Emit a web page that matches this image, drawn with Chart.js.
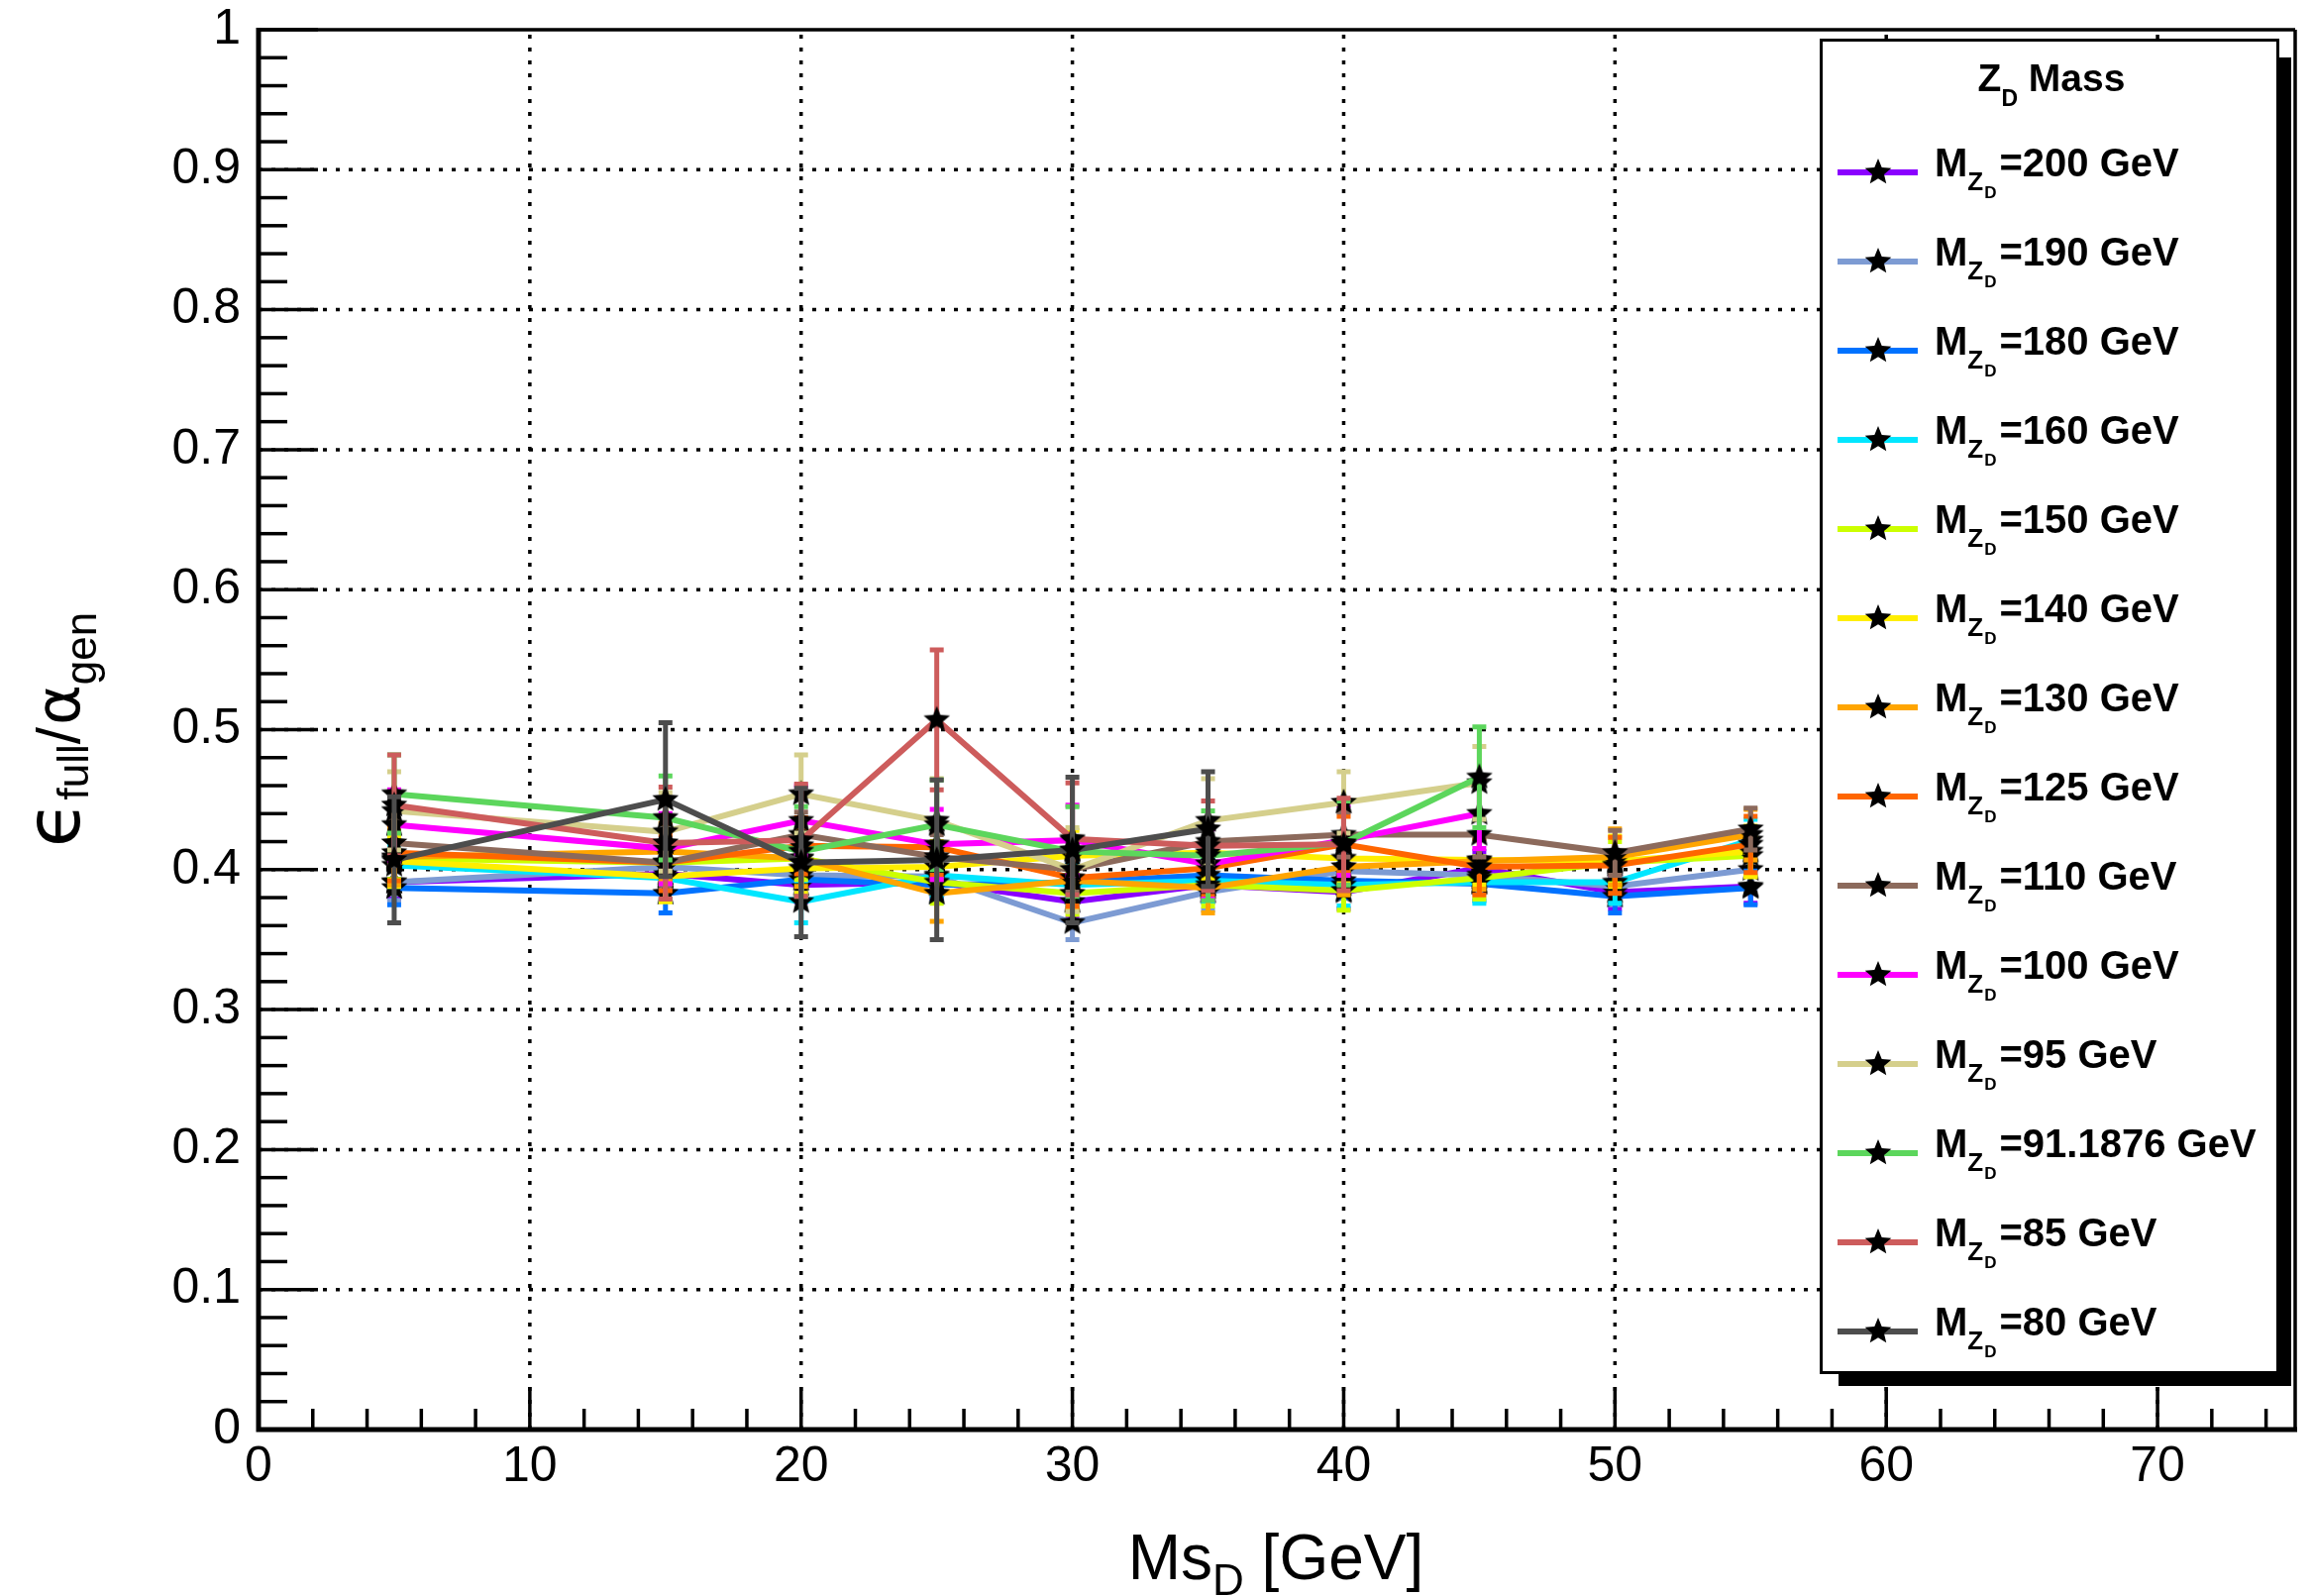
<!DOCTYPE html>
<html>
<head>
<meta charset="utf-8">
<script src="https://cdn.jsdelivr.net/npm/chart.js@4.4.1/dist/chart.umd.min.js"></script>
<style>
  html, body { margin: 0; padding: 0; background: #fff; }
  canvas { display: block; }
</style>
</head>
<body>
<canvas id="effChart" width="2335" height="1611" style="width:2335px;height:1611px"></canvas>
<script>
// Ms_D points (GeV) - not every mass has all of them
const msdAll  = [5, 15, 20, 25, 30, 35, 40, 45, 50, 55];
const msdTo45 = [5, 15, 20, 25, 30, 35, 40, 45];
const msdTo40 = [5, 15, 20, 25, 30, 35, 40];
const msdTo35 = [5, 15, 20, 25, 30, 35];

// Z_D mass labels (legend order)
const massLabels = ['200', '190', '180', '160', '150', '140', '130', '125', '110', '100', '95', '91.1876', '85', '80'];

// efficiency values
const eff200 = [0.391, 0.397, 0.389, 0.391, 0.377, 0.389, 0.384, 0.401, 0.384, 0.388];
const eff190 = [0.391, 0.402, 0.396, 0.395, 0.362, 0.384, 0.399, 0.396, 0.388, 0.400];
const eff180 = [0.387, 0.383, 0.393, 0.389, 0.391, 0.396, 0.392, 0.390, 0.381, 0.387];
const eff160 = [0.403, 0.394, 0.377, 0.396, 0.389, 0.392, 0.389, 0.391, 0.391, 0.421];
const eff150 = [0.408, 0.405, 0.408, 0.391, 0.383, 0.389, 0.385, 0.394, 0.405, 0.410];
const eff140 = [0.406, 0.395, 0.401, 0.402, 0.410, 0.412, 0.408, 0.407, 0.406, 0.413];
const eff130 = [0.409, 0.413, 0.408, 0.383, 0.392, 0.387, 0.402, 0.406, 0.409, 0.425];
const eff125 = [0.412, 0.405, 0.417, 0.416, 0.394, 0.401, 0.418, 0.402, 0.403, 0.418];
const eff110 = [0.419, 0.405, 0.425, 0.409, 0.400, 0.420, 0.425, 0.425, 0.412, 0.429];
const eff100 = [0.432, 0.415, 0.435, 0.418, 0.421, 0.404, 0.421, 0.440];
const eff95  = [0.442, 0.427, 0.454, 0.435, 0.400, 0.435, 0.448, 0.462];
const eff91  = [0.454, 0.437, 0.413, 0.432, 0.413, 0.410, 0.419, 0.466];
const eff85  = [0.446, 0.419, 0.421, 0.507, 0.422, 0.417, 0.418];
const eff80  = [0.407, 0.450, 0.405, 0.407, 0.414, 0.429];

// symmetric errors
const err200 = [0.012, 0.012, 0.012, 0.012, 0.012, 0.012, 0.012, 0.012, 0.012, 0.012];
const err190 = [0.013, 0.013, 0.013, 0.013, 0.012, 0.013, 0.013, 0.013, 0.013, 0.013];
const err180 = [0.012, 0.014, 0.012, 0.012, 0.012, 0.012, 0.012, 0.012, 0.012, 0.012];
const err160 = [0.015, 0.016, 0.015, 0.015, 0.015, 0.015, 0.015, 0.015, 0.015, 0.015];
const err150 = [0.015, 0.015, 0.015, 0.015, 0.015, 0.015, 0.014, 0.015, 0.015, 0.015];
const err140 = [0.018, 0.018, 0.018, 0.018, 0.018, 0.018, 0.018, 0.018, 0.018, 0.018];
const err130 = [0.020, 0.020, 0.020, 0.020, 0.020, 0.018, 0.020, 0.020, 0.020, 0.018];
const err125 = [0.020, 0.020, 0.020, 0.020, 0.020, 0.020, 0.020, 0.020, 0.020, 0.020];
const err110 = [0.016, 0.016, 0.016, 0.016, 0.016, 0.016, 0.016, 0.016, 0.016, 0.015];
const err100 = [0.025, 0.025, 0.025, 0.025, 0.025, 0.025, 0.025, 0.025];
const err95  = [0.028, 0.028, 0.028, 0.030, 0.030, 0.030, 0.022, 0.026];
const err91  = [0.028, 0.030, 0.032, 0.032, 0.032, 0.032, 0.030, 0.036];
const err85  = [0.036, 0.040, 0.040, 0.050, 0.040, 0.032, 0.033];
const err80  = [0.045, 0.055, 0.053, 0.057, 0.052, 0.041];

const lineColors = ['#8a00ff', '#7d9bd3', '#0072ff', '#00e6ff', '#ccff00', '#ffee00', '#ffa500',
                    '#ff6600', '#8c6a5c', '#ff00ff', '#d5cf8c', '#5cd65c', '#cd5c5c', '#4d4d4d'];

const xValues = [msdAll, msdAll, msdAll, msdAll, msdAll, msdAll, msdAll, msdAll, msdAll,
                 msdTo45, msdTo45, msdTo45, msdTo40, msdTo35];
const yValues = [eff200, eff190, eff180, eff160, eff150, eff140, eff130, eff125, eff110,
                 eff100, eff95, eff91, eff85, eff80];
const yErrors = [err200, err190, err180, err160, err150, err140, err130, err125, err110,
                 err100, err95, err91, err85, err80];

const FONT = "'Liberation Sans', Arial, sans-serif";

// filled black star like ROOT marker 29
function makeStar(size) {
    const c = document.createElement('canvas');
    c.width = size;
    c.height = size;
    const g = c.getContext('2d');
    const R = size / 2 - 1;
    const r = R * 0.45;
    g.beginPath();
    for (let k = 0; k < 10; k++) {
        const a = -Math.PI / 2 + k * Math.PI / 5;
        const rr = k % 2 === 0 ? R : r;
        const px = size / 2 + rr * Math.cos(a);
        const py = size / 2 + rr * Math.sin(a);
        if (k === 0) g.moveTo(px, py); else g.lineTo(px, py);
    }
    g.closePath();
    g.fillStyle = '#000';
    g.fill();
    return c;
}
const star = makeStar(30);

const datasets = massLabels.map((m, i) => ({
    label: 'M_ZD=' + m + ' GeV',
    data: xValues[i].map((x, j) => ({ x: x, y: yValues[i][j] })),
    errors: yErrors[i],
    borderColor: lineColors[i],
    backgroundColor: lineColors[i],
    borderWidth: 6,
    pointStyle: star,
    pointRadius: 14,
    tension: 0,
    order: massLabels.length - i   // last mass drawn on top
}));

// error bars drawn just before each graph
const errorBars = {
    id: 'errorBars',
    beforeDatasetDraw(chart, args) {
        const ds = chart.data.datasets[args.index];
        const xs = chart.scales.x, ys = chart.scales.y;
        const ctx = chart.ctx;
        ctx.save();
        ctx.strokeStyle = ds.borderColor;
        ctx.lineWidth = 5;
        ds.data.forEach((p, j) => {
            const e = ds.errors[j];
            const px = xs.getPixelForValue(p.x);
            const top = ys.getPixelForValue(p.y + e);
            const bot = ys.getPixelForValue(p.y - e);
            ctx.beginPath();
            ctx.moveTo(px, top); ctx.lineTo(px, bot);
            ctx.moveTo(px - 7, top); ctx.lineTo(px + 7, top);
            ctx.moveTo(px - 7, bot); ctx.lineTo(px + 7, bot);
            ctx.stroke();
        });
        ctx.restore();
    }
};

// ROOT style frame: dotted grid, inside ticks, frame lines
const rootFrame = {
    id: 'rootFrame',
    beforeDatasetsDraw(chart) {
        const { ctx, chartArea: a, scales: { x, y } } = chart;
        ctx.save();
        ctx.strokeStyle = '#000';
        ctx.lineWidth = 3.5;
        ctx.setLineDash([4, 9]);
        for (let v = 10; v <= 70; v += 10) {
            const px = x.getPixelForValue(v);
            ctx.beginPath(); ctx.moveTo(px, a.bottom); ctx.lineTo(px, a.top); ctx.stroke();
        }
        for (let k = 1; k <= 9; k++) {
            const py = y.getPixelForValue(k / 10);
            ctx.beginPath(); ctx.moveTo(a.left, py); ctx.lineTo(a.right, py); ctx.stroke();
        }
        ctx.restore();
    },
    afterDatasetsDraw(chart) {
        const { ctx, chartArea: a, scales: { x, y } } = chart;
        ctx.save();
        ctx.strokeStyle = '#000';
        ctx.lineCap = 'butt';
        // ticks
        ctx.lineWidth = 3.5;
        for (let k = 0; k <= 50; k++) {
            const py = y.getPixelForValue(k * 0.02);
            const len = k % 5 === 0 ? 60 : 29;
            ctx.beginPath(); ctx.moveTo(a.left, py); ctx.lineTo(a.left + len, py); ctx.stroke();
        }
        for (let v = 0; v <= 75; v += 2) {
            const px = x.getPixelForValue(v);
            const len = v % 10 === 0 ? 43 : 21;
            ctx.beginPath(); ctx.moveTo(px, a.bottom); ctx.lineTo(px, a.bottom - len); ctx.stroke();
        }
        // frame
        ctx.lineWidth = 3.5;
        ctx.beginPath();
        ctx.moveTo(a.left, a.top); ctx.lineTo(a.right + 2, a.top);
        ctx.moveTo(a.right + 2, a.top); ctx.lineTo(a.right + 2, a.bottom);
        ctx.stroke();
        ctx.lineWidth = 5;
        ctx.beginPath();
        ctx.moveTo(a.left, a.top - 2); ctx.lineTo(a.left, a.bottom);
        ctx.lineTo(a.right + 4, a.bottom);
        ctx.stroke();
        ctx.restore();
    }
};

// draw a run of text pieces [text, font, baselineShift, extraGap]
function drawPieces(ctx, pieces, x0, y0) {
    let xx = x0;
    pieces.forEach(p => {
        ctx.font = p[1];
        ctx.fillText(p[0], xx, y0 + p[2]);
        xx += ctx.measureText(p[0]).width + (p[3] || 0);
    });
    return xx;
}
function piecesWidth(ctx, pieces) {
    let w = 0;
    pieces.forEach(p => { ctx.font = p[1]; w += ctx.measureText(p[0]).width + (p[3] || 0); });
    return w;
}

const titlesAndLegend = {
    id: 'titlesAndLegend',
    afterDraw(chart) {
        const ctx = chart.ctx;
        const a = chart.chartArea;
        ctx.save();
        ctx.fillStyle = '#000';
        ctx.textAlign = 'left';
        ctx.textBaseline = 'alphabetic';

        // x axis title
        const xt = [['Ms', '64px ' + FONT, 0], ['D', '44px ' + FONT, 16], [' [GeV]', '64px ' + FONT, 0]];
        const xw = piecesWidth(ctx, xt);
        drawPieces(ctx, xt, (a.left + a.right) / 2 - xw / 2, 1594);

        // y axis title, rotated
        ctx.save();
        ctx.translate(80, (a.top + a.bottom) / 2);
        ctx.rotate(-Math.PI / 2);
        const yt = [['\u03F5', '76px "DejaVu Sans"', 0, 1], ['full', '44px ' + FONT, 9], ['/', '62px ' + FONT, 0, 2],
                    ['\u03B1', '62px "DejaVu Sans"', 0], ['gen', '44px ' + FONT, 17]];
        const yw = piecesWidth(ctx, yt);
        drawPieces(ctx, yt, -yw / 2, 0);
        ctx.restore();

        // legend box with shadow
        ctx.fillStyle = '#000';
        ctx.fillRect(1856, 58, 2313 - 1856, 1399 - 58);
        ctx.fillStyle = '#fff';
        ctx.fillRect(1837, 39, 2301 - 1837, 1387 - 39);
        ctx.strokeStyle = '#000';
        ctx.lineWidth = 3;
        ctx.strokeRect(1838.5, 40.5, 461, 1345);

        ctx.fillStyle = '#000';
        const head = [['Z', 'bold 39px ' + FONT, 0], ['D', 'bold 23px ' + FONT, 15], [' Mass', 'bold 39px ' + FONT, 0]];
        const hw = piecesWidth(ctx, head);
        drawPieces(ctx, head, 2071 - hw / 2, 92);

        massLabels.forEach((m, i) => {
            const base = 178 + 90 * i;
            const ly = base - 4;
            ctx.strokeStyle = lineColors[i];
            ctx.lineWidth = 6;
            ctx.beginPath(); ctx.moveTo(1855, ly); ctx.lineTo(1936, ly); ctx.stroke();
            ctx.drawImage(star, 1896 - star.width / 2, ly - star.height / 2);
            ctx.fillStyle = '#000';
            drawPieces(ctx, [
                ['M', 'bold 40px ' + FONT, 0],
                ['Z', 'bold 26px ' + FONT, 14, 1],
                ['D', 'bold 17px ' + FONT, 22, 3],
                ['=' + m + ' GeV', 'bold 40px ' + FONT, 0]
            ], 1953, base);
        });
        ctx.restore();
    }
};

// fixed frame: no extra room for edge labels
function fixPadding(scale) {
    scale.paddingTop = 0;
    scale.paddingBottom = 0;
    scale.paddingLeft = 0;
    scale.paddingRight = 0;
}

new Chart(document.getElementById('effChart').getContext('2d'), {
    type: 'line',
    data: { datasets: datasets },
    options: {
        responsive: false,
        animation: false,
        events: [],
        layout: { padding: { left: 0, top: 30, right: 17, bottom: 0 } },
        scales: {
            x: {
                type: 'linear',
                min: 0,
                max: 75,
                afterFit: scale => { scale.height = 168; fixPadding(scale); },
                grid: { display: false, drawTicks: false },
                border: { display: false },
                ticks: {
                    stepSize: 10,
                    includeBounds: false,
                    autoSkip: false,
                    maxRotation: 0,
                    padding: 8,
                    color: '#000',
                    font: { family: FONT, size: 50 }
                }
            },
            y: {
                type: 'linear',
                min: 0,
                max: 1,
                afterFit: scale => { scale.width = 261; fixPadding(scale); },
                grid: { display: false, drawTicks: false },
                border: { display: false },
                ticks: {
                    stepSize: 0.1,
                    padding: 18,
                    color: '#000',
                    font: { family: FONT, size: 50 },
                    callback: v => String(Number(v.toFixed(2)))
                }
            }
        },
        plugins: {
            legend: { display: false },
            tooltip: { enabled: false }
        }
    },
    plugins: [errorBars, rootFrame, titlesAndLegend]
});
</script>
</body>
</html>
